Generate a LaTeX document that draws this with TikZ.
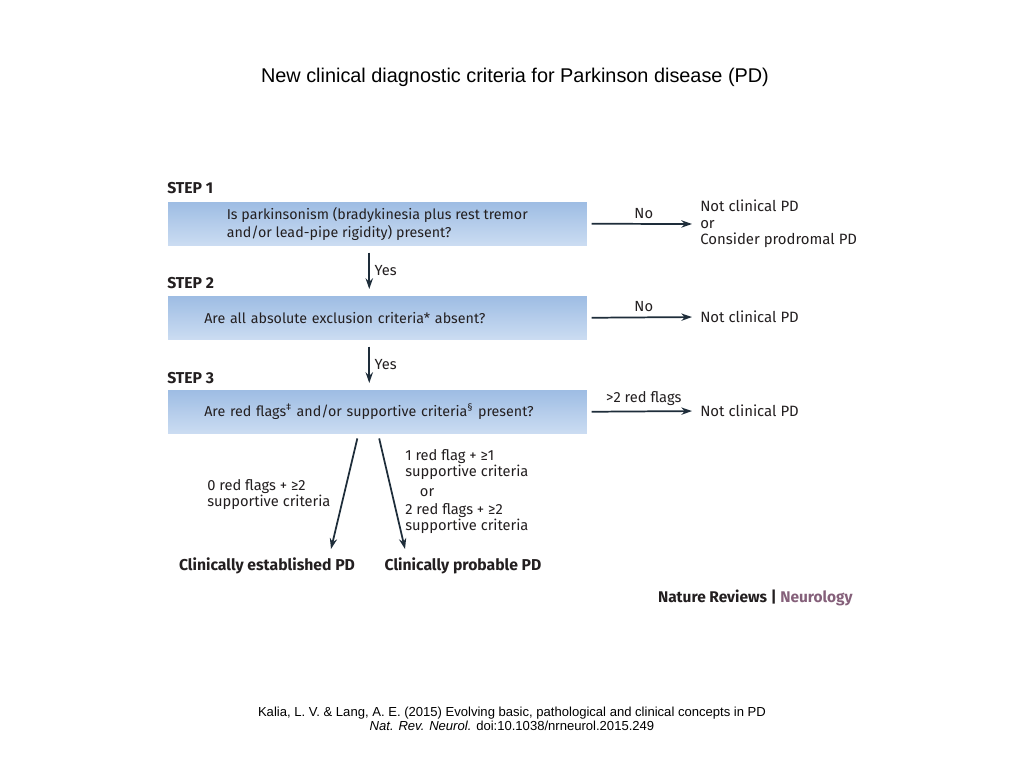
\documentclass[tikz,border=0pt]{standalone}
\usepackage{fontspec}
\setmainfont{Liberation Sans}
\newfontfamily\natfont{Fira Sans}
\usetikzlibrary{positioning,arrows.meta}
\definecolor{boxtop}{HTML}{9DBCE3}
\definecolor{boxbot}{HTML}{CCDDF2}
\definecolor{arrowdark}{HTML}{1E2D3A}
\definecolor{neuro}{HTML}{85607A}
\definecolor{textdark}{HTML}{231F20}
\tikzset{
  stepbox/.style={anchor=north west,minimum width=315pt,minimum height=33.75pt,
    top color=boxtop,bottom color=boxbot,draw=white,text=textdark,
    font=\natfont\fontsize{10.7}{13.5}\selectfont,align=left},
  steplabel/.style={anchor=west,inner sep=0pt,text=textdark,
    font=\natfont\bfseries\fontsize{11.8}{13}\selectfont},
  result/.style={anchor=west,inner sep=0pt,align=left,text=textdark,
    font=\natfont\fontsize{11.2}{12.4}\selectfont},
  cond/.style={align=left,text=textdark,font=\natfont\fontsize{11}{12}\selectfont},
  final/.style={inner sep=0pt,text=textdark,font=\natfont\bfseries\fontsize{11.8}{13}\selectfont},
  flow/.style={-{Stealth[length=8pt,width=5.5pt]},arrowdark,line width=1.3pt},
}
\begin{document}
\begin{tikzpicture}[x=0.75pt,y=-0.75pt]
  \useasboundingbox[fill=white] (0,0) rectangle (1024,768);
  \node[font=\fontsize{14.9}{17}\selectfont] (title) at (515,77)
    {New clinical diagnostic criteria for Parkinson disease (PD)};

  % steps
  \node[steplabel] (s1) at (167,188) {STEP 1};
  \node[stepbox] (box1) at (167,201)
    {Is parkinsonism (bradykinesia plus rest tremor\\and/or lead-pipe rigidity) present?};
  \node[steplabel] (s2) at (167,283) {STEP 2};
  \node[stepbox,inner xsep=27.75pt,text width=259.5pt] (box2) at (167,295)
    {Are all absolute exclusion criteria* absent?};
  \node[steplabel] (s3) at (167,378) {STEP 3};
  \node[stepbox,inner xsep=27.75pt,text width=259.5pt] (box3) at (167,389)
    {Are red flags\textsuperscript{‡} and/or supportive criteria\textsuperscript{§} present?};

  % results on the right
  \node[result] (r1) at (700,224) {Not clinical PD\\or\\Consider prodromal PD};
  \node[result] (r2) at (700,317) {Not clinical PD};
  \node[result] (r3) at (700,411) {Not clinical PD};
  \draw[flow,shorten <=3pt,shorten >=6pt] (box1.east) -- (r1.west) node[midway,above,cond]{No};
  \draw[flow,shorten <=3pt,shorten >=6pt] (box2.east) -- (r2.west) node[midway,above,cond]{No};
  \draw[flow,shorten <=3pt,shorten >=6pt] (box3.east) -- (r3.west) node[midway,above,cond]{>2 red flags};

  % yes arrows
  \draw[flow,shorten <=4.5pt,shorten >=4.5pt] ([xshift=-6pt]box1.south) -- ([xshift=-6pt]box2.north)
    node[midway,right,cond]{Yes};
  \draw[flow,shorten <=4.5pt,shorten >=4.5pt] ([xshift=-6pt]box2.south) -- ([xshift=-6pt]box3.north)
    node[midway,right,cond]{Yes};

  % outcomes
  \node[final] (est) at (267,566) {Clinically established PD};
  \node[final] (prob) at (463,566) {Clinically probable PD};
  \coordinate (e1) at (331,549);
  \coordinate (e2) at (405,549);
  \draw[flow,shorten <=3pt] ([xshift=-14.25pt]box3.south) -- (e1);
  \draw[flow,shorten <=3pt] ([xshift=0.75pt]box3.south) -- (e2);
  \node[cond,anchor=west,inner sep=0pt] (c0) at (207,495) {0 red flags + ≥2\\supportive criteria};
  \node[cond,anchor=north west,inner sep=0pt] (c1) at (405,449)
    {1 red flag + ≥1\\supportive criteria\\[3pt]\hspace*{11pt}or\\[2pt]2 red flags + ≥2\\supportive criteria};

  % journal and citation
  \node[anchor=east,inner sep=0pt,text=textdark,font=\natfont\bfseries\fontsize{11.6}{13}\selectfont] (brand) at (853,598)
    {Nature Reviews | \textcolor{neuro}{Neurology}};
  \node[align=center,font=\fontsize{9.8}{10.5}\selectfont] (cite) at (512,719)
    {Kalia, L. V. \& Lang, A. E. (2015) Evolving basic, pathological and clinical concepts in PD\\
     \textit{Nat. Rev. Neurol.} doi:10.1038/nrneurol.2015.249};
\end{tikzpicture}
\end{document}
